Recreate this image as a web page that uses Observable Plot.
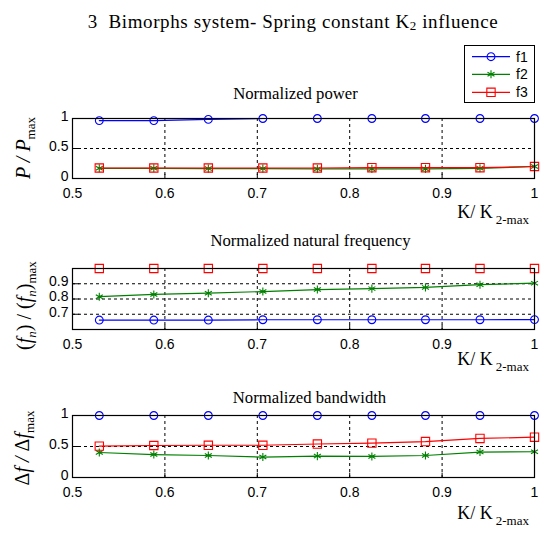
<!DOCTYPE html>
<html><head><meta charset="utf-8">
<script src="https://cdn.jsdelivr.net/npm/d3@7"></script>
<script src="https://cdn.jsdelivr.net/npm/@observablehq/plot@0.6"></script>
<style>
html,body{margin:0;padding:0;background:#fff;}
#wrap{position:relative;width:550px;height:533px;overflow:hidden;background:#fff;}
#wrap > svg{position:absolute;left:0;}
</style>
</head><body>
<div id="wrap"></div>
<script>
// ---- data ----
const kRatio = [0.529, 0.588, 0.647, 0.706, 0.765, 0.824, 0.882, 0.941, 1.0];
const seriesNames = ["f1", "f2", "f3"];
const powerF1 = [0.965, 0.965, 0.985, 1, 1, 1, 1, 1, 1];
const powerF2 = [0.17, 0.17, 0.165, 0.165, 0.16, 0.16, 0.16, 0.17, 0.2];
const powerF3 = [0.175, 0.175, 0.175, 0.175, 0.175, 0.18, 0.18, 0.18, 0.2];
const freqF1 = [0.662, 0.662, 0.662, 0.664, 0.664, 0.664, 0.664, 0.664, 0.665];
const freqF2 = [0.815, 0.83, 0.838, 0.849, 0.862, 0.868, 0.876, 0.894, 0.904];
const freqF3 = [1, 1, 1, 1, 1, 1, 1, 1, 1];
const bwF1 = [1, 1, 1, 1, 1, 1, 1, 1, 1];
const bwF2 = [0.403, 0.37, 0.355, 0.33, 0.345, 0.34, 0.355, 0.41, 0.415];
const bwF3 = [0.506, 0.516, 0.52, 0.52, 0.54, 0.555, 0.58, 0.63, 0.65];
const xTicks = [0.5, 0.6, 0.7, 0.8, 0.9, 1];
const xGrid = [0.6, 0.7, 0.8, 0.9];
const powerTicks = [0, 0.5, 1];
const freqTicks = [0.7, 0.8, 0.9];
const bwTicks = [0, 0.5, 1];
const titleText = "3\u00a0\u00a0Bimorphs system- Spring constant K";
const subtitles = ["Normalized power", "Normalized natural frequency", "Normalized bandwidth"];

const colors = {f1: "#0000ff", f2: "#008000", f3: "#ff0000"};
const symbols = {f1: "circle", f2: "asterisk", f3: "square"};
const radii = {f1: 3.9, f2: 3.8, f3: 4.7};

const wrap = document.getElementById("wrap");
const fmt = d => String(+d.toFixed(1));
const serif = "'Liberation Serif', 'Times New Roman', serif";
const sans = "'Liberation Sans', Arial, sans-serif";

function panel(cfg) {
  const rows = [];
  seriesNames.forEach((s, i) => cfg.values[i].forEach((v, j) => rows.push({k: kRatio[j], v, s})));
  const [y0, y1] = cfg.yDomain;
  const tl = (y1 - y0) * 0.07;
  const marks = [
    Plot.ruleX(xGrid, {stroke: "black", strokeDasharray: "3,3", strokeWidth: 1}),
    Plot.ruleY(cfg.yGrid, {stroke: "black", strokeDasharray: "3,3", strokeWidth: 1}),
    Plot.ruleX(xGrid, {y1: y0, y2: y0 + tl, stroke: "black"}),
    Plot.ruleY(cfg.yTicks, {x1: 0.5, x2: 0.5 + 0.008, stroke: "black"}),
  ];
  seriesNames.forEach(s => {
    const d = rows.filter(r => r.s === s);
    marks.push(Plot.line(d, {x: "k", y: "v", stroke: colors[s], strokeWidth: 1.2}));
    marks.push(Plot.dot(d, {x: "k", y: "v", stroke: colors[s], symbol: () => symbols[s], r: radii[s], strokeWidth: 1.1, fill: "none"}));
  });
  marks.push(Plot.frame({stroke: "black", strokeWidth: 1.2}));
  marks.push(Plot.axisX({ticks: xTicks, tickFormat: fmt, tickSize: 0, tickPadding: 10, fontSize: 14, fontFamily: sans, fill: "black", label: null}));
  marks.push(Plot.axisY({ticks: cfg.yTicks, tickFormat: fmt, tickSize: 0, tickPadding: 4, dy: -2, fontSize: 14, fontFamily: sans, fill: "black", label: null}));
  marks.push(Plot.text([cfg.subtitle], {frameAnchor: "top", dy: -cfg.subDy, dx: cfg.subDx, fontFamily: serif, fontSize: 16.7, fill: "black", lineAnchor: "middle"}));
  const svg = Plot.plot({
    width: 550, height: cfg.height,
    marginLeft: 72, marginRight: 16, marginTop: cfg.mt, marginBottom: cfg.mb,
    x: {domain: [0.5, 1]},
    y: {domain: cfg.yDomain},
    symbol: {type: "identity"},
    style: {background: "transparent", color: "black", overflow: "visible"},
    marks
  });
  svg.style.top = cfg.top + "px";
  svg.style.overflow = "visible";
  const sel = d3.select(svg);
  // x label
  const xl = sel.append("text").attr("x", 529).attr("y", cfg.height - cfg.xlabDy)
    .attr("text-anchor", "end").attr("font-family", serif).attr("font-size", 18).attr("fill", "black");
  xl.append("tspan").text("K/ K");
  xl.append("tspan").attr("font-size", 13).attr("dy", 6).attr("dx", 3).text("2-max");
  // y label
  const cy = cfg.mt + (cfg.height - cfg.mt - cfg.mb) / 2 + cfg.ylabOff;
  const yl = sel.append("text").attr("transform", `translate(${cfg.ylabX},${cy}) rotate(-90)`)
    .attr("text-anchor", "middle").attr("font-family", serif).attr("font-size", 20).attr("font-style", "italic").attr("fill", "black");
  cfg.ylabel(yl);
  wrap.appendChild(svg);
}

panel({
  top: 70, height: 160, mt: 48, mb: 52, yDomain: [0, 1], yTicks: powerTicks, yGrid: [0.5],
  values: [powerF1, powerF2, powerF3], subtitle: subtitles[0], subDy: 25, subDx: -8, xlabDy: 12,
  ylabX: 30, ylabOff: 0,
  ylabel: t => {
    t.append("tspan").text("P / P");
    t.append("tspan").attr("font-size", 13).attr("font-style", "normal").attr("dy", 5).text("max");
  }
});
panel({
  top: 230, height: 150, mt: 38, mb: 51, yDomain: [0.6, 1], yTicks: freqTicks, yGrid: freqTicks,
  values: [freqF1, freqF2, freqF3], subtitle: subtitles[1], subDy: 28, subDx: 7, xlabDy: 15,
  ylabX: 31, ylabOff: 7,
  ylabel: t => {
    t.append("tspan").attr("font-style", "normal").text("(");
    t.append("tspan").text("f");
    t.append("tspan").attr("font-size", 13).attr("dy", 5).text("n");
    t.append("tspan").attr("font-style", "normal").attr("dy", -5).text(") / (");
    t.append("tspan").text("f");
    t.append("tspan").attr("font-size", 13).attr("dy", 5).text("n");
    t.append("tspan").attr("font-style", "normal").attr("dy", -5).text(")");
    t.append("tspan").attr("font-size", 13).attr("font-style", "normal").attr("dy", 5).text("max");
  }
});
panel({
  top: 380, height: 153, mt: 35, mb: 56, yDomain: [0, 1], yTicks: bwTicks, yGrid: [0.5],
  values: [bwF1, bwF2, bwF3], subtitle: subtitles[2], subDy: 18, subDx: 6, xlabDy: 14,
  ylabX: 29, ylabOff: 2,
  ylabel: t => {
    t.append("tspan").attr("font-style", "normal").text("Δ");
    t.append("tspan").text("f / ");
    t.append("tspan").attr("font-style", "normal").text("Δ");
    t.append("tspan").text("f");
    t.append("tspan").attr("font-size", 13).attr("font-style", "normal").attr("dy", 5).text("max");
  }
});

// title + legend overlay
const over = d3.select(wrap).append("svg").attr("width", 550).attr("height", 110).style("top", "0px").style("position", "absolute");
const tt = over.append("text").attr("x", 293).attr("y", 28).attr("text-anchor", "middle")
  .attr("font-family", serif).attr("font-size", 19).attr("letter-spacing", 0.6).attr("fill", "black");
tt.append("tspan").text(titleText);
tt.append("tspan").attr("font-size", 13).attr("dy", 2).text("2");
tt.append("tspan").attr("dy", -2).text(" influence");
over.append("rect").attr("x", 464.5).attr("y", 45.5).attr("width", 70).attr("height", 57)
  .attr("fill", "white").attr("stroke", "black");
const legY = [56.7, 74.3, 92.3];
seriesNames.forEach((s, i) => {
  const g = over.append("g").attr("transform", `translate(0,${legY[i]})`);
  g.append("line").attr("x1", 472).attr("x2", 510).attr("stroke", colors[s]).attr("stroke-width", 1.2);
  g.append("path").attr("transform", "translate(491,0)")
    .attr("d", d3.symbol(s === "f1" ? d3.symbolCircle : s === "f2" ? d3.symbolAsterisk : d3.symbolSquare, Math.PI * radii[s] * radii[s])())
    .attr("fill", "none").attr("stroke", colors[s]).attr("stroke-width", 1.1);
  g.append("text").attr("x", 516).attr("y", 5).attr("font-family", sans).attr("font-size", 14).attr("fill", "black").text(s);
});
</script>
</body></html>
